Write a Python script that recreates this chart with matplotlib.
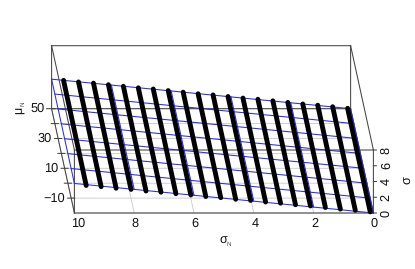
import matplotlib
matplotlib.use("Agg")
import matplotlib.pyplot as plt

plt.rcParams["font.family"] = ["Liberation Sans", "DejaVu Sans"]
plt.rcParams["text.hinting"] = "no_hinting"
plt.rcParams["path.snap"] = False

# data: black stripes, one per sigma_N value, ends at mu_low and mu_high
stripe_sigma_n = [9.6, 9.1, 8.6, 8.1, 7.6, 7.1, 6.6, 6.1, 5.6, 5.1,
                  4.6, 4.1, 3.6, 3.1, 2.6, 2.1, 1.6, 1.1, 0.6, 0.1]
stripe_sigma_low = [3.4, 3.25, 3.05, 2.9, 2.7, 2.55, 2.35, 2.2, 2.0, 1.85,
                    1.65, 1.5, 1.3, 1.15, 0.95, 0.8, 0.6, 0.4, 0.25, 0.05]
stripe_sigma_high = [3.6, 3.4, 3.25, 3.05, 2.85, 2.65, 2.5, 2.3, 2.1, 1.9,
                     1.75, 1.55, 1.35, 1.2, 1.0, 0.8, 0.6, 0.45, 0.25, 0.05]
stripe_mu_low = -19.5
stripe_mu_high = 50.0

# data: blue plane mesh
plane_sigma_n = [10, 8, 6, 4, 2, 0]
plane_sigma = [3.75, 3.0, 2.25, 1.5, 0.75, 0.0]
plane_mu = [-20, -10, 0, 10, 20, 30, 40, 50]

# axis ticks
sigma_n_ticks = [10, 8, 6, 4, 2, 0]
mu_ticks = [-20, -10, 0, 10, 20, 30, 40, 50]
mu_labels = {-10: "\u221210", 10: "10", 30: "30", 50: "50"}
sigma_ticks = [0, 2, 4, 6, 8]

SIGMA_N_MAX = 10
MU_MIN, MU_MAX = -20, 50
SIGMA_MAX = 8


# ----------
def project(sigma_n, mu, sigma):
    # oblique view, result is in figure pixels
    x = 373.4 - 29.9 * sigma_n - 0.3257 * (mu - MU_MIN)
    y = 213.0 - 7.875 * sigma - 1.49 * (mu - MU_MIN)
    return x, y


# ----------
def draw_3d(ax, p0, p1, **kwargs):
    x0, y0 = project(*p0)
    x1, y1 = project(*p1)
    ax.plot([x0, x1], [y0, y1], **kwargs)


fig = plt.figure(figsize=(4.15, 2.69), dpi=100)
ax = fig.add_axes([0, 0, 1, 1])
ax.set_xlim(0, 415)
ax.set_ylim(269, 0)
ax.axis("off")

grid_style = dict(color="#c8c8c8", lw=0.6, zorder=1)
box_style = dict(color="#444444", lw=0.75, zorder=2)
blue_style = dict(color="#2a2aee", lw=0.75, zorder=3)

# floor grid
for m in mu_ticks:
    draw_3d(ax, (SIGMA_N_MAX, m, 0), (0, m, 0), **grid_style)
for s in sigma_n_ticks:
    draw_3d(ax, (s, MU_MIN, 0), (s, MU_MAX, 0), **grid_style)

# box
for s in [SIGMA_N_MAX, 0]:
    draw_3d(ax, (s, MU_MIN, 0), (s, MU_MAX, 0), **box_style)
    draw_3d(ax, (s, MU_MIN, SIGMA_MAX), (s, MU_MAX, SIGMA_MAX), **box_style)
    draw_3d(ax, (s, MU_MIN, 0), (s, MU_MIN, SIGMA_MAX), **box_style)
    draw_3d(ax, (s, MU_MAX, 0), (s, MU_MAX, SIGMA_MAX), **box_style)
draw_3d(ax, (SIGMA_N_MAX, MU_MIN, 0), (0, MU_MIN, 0), **box_style)
draw_3d(ax, (SIGMA_N_MAX, MU_MAX, 0), (0, MU_MAX, 0), **box_style)
draw_3d(ax, (SIGMA_N_MAX, MU_MIN, SIGMA_MAX), (0, MU_MIN, SIGMA_MAX), **box_style)
draw_3d(ax, (SIGMA_N_MAX, MU_MAX, SIGMA_MAX), (0, MU_MAX, SIGMA_MAX), **box_style)

# plane mesh
for s, z in zip(plane_sigma_n, plane_sigma):
    draw_3d(ax, (s, MU_MIN, z), (s, MU_MAX, z), **blue_style)
for m in plane_mu:
    line = [project(s, m, z) for s, z in zip(plane_sigma_n, plane_sigma)]
    ax.plot([p[0] for p in line], [p[1] for p in line], **blue_style)

# stripes of points
for s, low, high in zip(stripe_sigma_n, stripe_sigma_low, stripe_sigma_high):
    draw_3d(ax, (s, stripe_mu_low, low), (s, stripe_mu_high, high),
            color="black", lw=3.5, solid_capstyle="round", zorder=4)

# mu ticks
for m in mu_ticks:
    x, y = project(SIGMA_N_MAX, m, 0)
    left = x - 5 if m == MU_MAX else x - 3.5
    if m != MU_MIN:
        ax.plot([left, x + 3.5], [y, y], **box_style)
    if m in mu_labels:
        ax.text(x - 6.5, y + 0.3, mu_labels[m], ha="right", va="center",
                fontsize=9.2, color="#111111")

# sigma_N labels
for s in sigma_n_ticks:
    x, y = project(s, MU_MIN, 0)
    shift = 4 if s == 10 else 1
    ax.text(x + shift, y + 11, str(s), ha="center", va="center",
            fontsize=9.2, color="#111111")

# sigma ticks
for z in sigma_ticks:
    x, y = project(0, MU_MIN, z)
    ax.plot([x, x + 3], [y, y], **box_style)
    ax.text(x + 13, y, str(z), ha="center", va="center", rotation=90,
            fontsize=9.2, color="#111111")

# axis titles
ax.text(223, 241, "\u03c3", ha="center", va="center", fontsize=9, color="#111111")
ax.text(229, 244.5, "N", ha="center", va="center", fontsize=4.5, color="#444444")
ax.text(19, 110, "\u03bc", ha="center", va="center", rotation=90,
        fontsize=9, color="#111111")
ax.text(22.5, 103.5, "N", ha="center", va="center", rotation=90,
        fontsize=4.5, color="#444444")
ax.text(408, 180, "\u03c3", ha="center", va="center", rotation=90,
        fontsize=9.2, color="#111111")

fig.savefig("out.png", dpi=100)
